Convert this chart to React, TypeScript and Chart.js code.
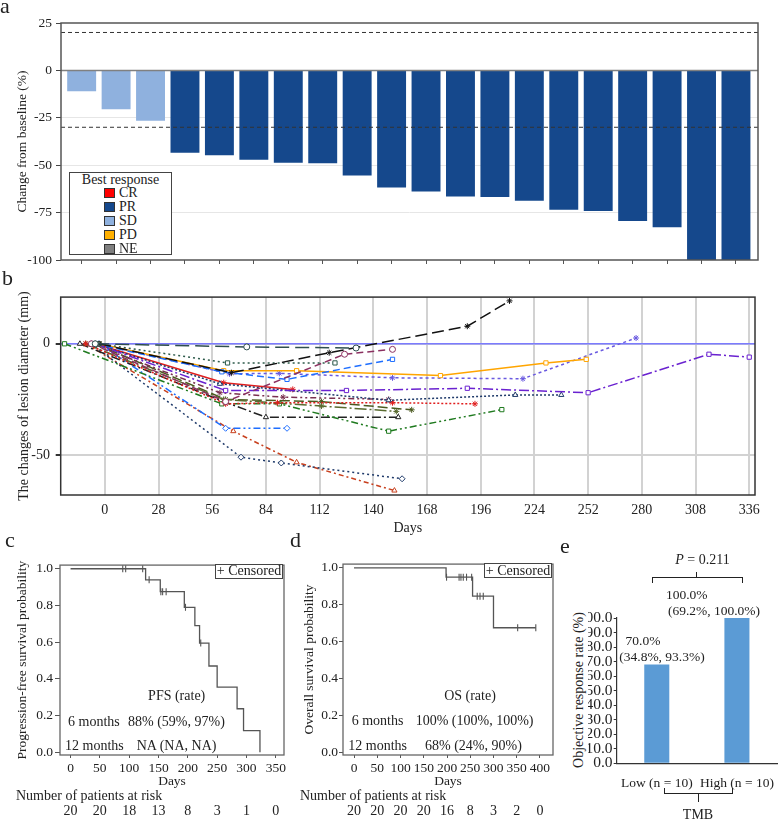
import React, { useEffect, useRef } from 'react';
import { Chart, registerables } from 'chart.js';

Chart.register(...registerables);

const SERIF = "'Liberation Serif', 'Times New Roman', serif";
Chart.defaults.font.family = SERIF;
Chart.defaults.color = '#222';

// ---------------- Panel a: waterfall ----------------
const sdChanges = [-11, -20.5, -26.5];
const prChanges = [-43.4, -44.8, -47.1, -48.7, -49, -55.4, -61.7, -63.9, -66.5, -66.8, -68.8, -73.5, -74.1, -79.4, -82.7, -100, -100];
const waterfallTicks = [25, 0, -25, -50, -75, -100];
const responseThresholds = [20, -30];
const responseLabels = ['CR', 'PR', 'SD', 'PD', 'NE'];

// ---------------- Panel b: lesion diameter ----------------
const dayTicks = [0, 28, 56, 84, 112, 140, 168, 196, 224, 252, 280, 308, 336];
const lesionTicks = [0, -50];
const lesionDays = [
  [-5, 74, 131],
  [-3, 66, 117, 189, 211],
  [-3, 64, 120],
  [-7, 63, 125, 150],
  [-5, 61, 95, 150],
  [-3, 62, 100, 175, 230, 251],
  [-3, 65, 91, 150, 218, 277],
  [-5, 63, 126, 189, 252, 315, 336],
  [-5, 60, 148, 214, 238],
  [-10, 63, 90, 150, 193],
  [-5, 62, 98],
  [-10, 62, 113, 152],
  [-21, 61, 91, 148, 207],
  [-13, 62, 84, 153],
  [-3, 63, 95],
  [-7, 71, 92, 155],
  [-10, 67, 100, 151],
  [-7, 60, 93, 148],
  [-5, 63, 113, 160],
];
const lesionChange = [
  [0, -1.4, -1.9],
  [0, -13, -4, 7.9, 19.3],
  [0, -8.6, -8.6],
  [0, -26, -4.7, -2.5],
  [0, -12.6, -16, -7],
  [0, -12.1, -12.1, -14.3, -8.6, -7],
  [0, -13.5, -13.3, -15.3, -15.7, 2.6],
  [0, -21, -21, -20, -22, -4.7, -6],
  [0, -18, -25.4, -23, -23],
  [0, -27, -26.5, -26.5, -27],
  [0, -17.5, -20.5],
  [0, -25, -28, -30.4],
  [0, -27, -27, -39.3, -29.6],
  [0, -26, -33, -33],
  [0, -38, -38],
  [0, -51, -53.6, -60.7],
  [0, -39.3, -53.3, -66],
  [0, -22, -24, -25],
  [0, -25, -26, -29.7],
];
const baselineRef = [0];

// ---------------- Panel c: PFS ----------------
const pfsTimes = [0, 128, 153, 194, 212, 220, 236, 250, 284, 295, 323];
const pfsSurv = [1, 0.94, 0.875, 0.79, 0.69, 0.595, 0.47, 0.355, 0.237, 0.118, 0];
const pfsCensor = [89, 94, 123, 134, 154, 157, 163, 196, 222];
const pfsDayTicks = [0, 50, 100, 150, 200, 250, 300, 350];
const pfsAtRisk = [20, 20, 18, 13, 8, 3, 1, 0];

// ---------------- Panel d: OS ----------------
const osTimes = [0, 198, 255, 300, 391];
const osSurv = [1, 0.949, 0.846, 0.675, 0.675];
const osCensor = [199, 226, 230, 235, 242, 253, 265, 271, 278, 352, 391];
const osDayTicks = [0, 50, 100, 150, 200, 250, 300, 350, 400];
const osAtRisk = [20, 20, 20, 20, 16, 8, 3, 2, 0];
const survTicks = [0, 0.2, 0.4, 0.6, 0.8, 1.0];

// ---------------- Panel e: ORR by TMB ----------------
const tmbGroups = ['Low (n = 10)', 'High (n = 10)'];
const orrValues = [68, 100];
const orrTicks = [0, 10, 20, 30, 40, 50, 60, 70, 80, 90, 100];
const orrPoint = ['70.0%', '100.0%'];
const orrCI = ['(34.8%, 93.3%)', '(69.2%, 100.0%)'];

// ---------------- styles ----------------
const responseColors = ['#FF0000', '#15488C', '#8FB1DE', '#FFB000', '#7F7F7F'];
const lesionStyles: any[] = [
  { color: '#2F4F4F', dash: [14, 6], marker: 'circle' },
  { color: '#111111', dash: [12, 5], marker: 'star' },
  { color: '#2E5B4B', dash: [2, 3], marker: 'rect' },
  { color: '#8B3060', dash: [7, 4], marker: 'circle' },
  { color: '#1E6EFF', dash: [7, 4], marker: 'rect' },
  { color: '#FFA500', dash: [], marker: 'rect' },
  { color: '#6A5AE0', dash: [3, 3], marker: 'star' },
  { color: '#6A22D0', dash: [10, 3, 2, 3], marker: 'rect' },
  { color: '#1F3A6A', dash: [2, 2], marker: 'triangle' },
  { color: '#E01E1E', dash: [2, 2], marker: 'star' },
  { color: '#E01E1E', dash: [], marker: 'star' },
  { color: '#5A6B2F', dash: [12, 3, 2, 3], marker: 'star' },
  { color: '#1F7A1F', dash: [7, 3, 2, 3, 2, 3], marker: 'rect' },
  { color: '#222222', dash: [9, 3, 2, 3], marker: 'triangle' },
  { color: '#1E6EFF', dash: [7, 3, 2, 3, 2, 3], marker: 'rectRot' },
  { color: '#1F3A6A', dash: [2, 3], marker: 'rectRot' },
  { color: '#C8401E', dash: [5, 3, 2, 3], marker: 'triangle' },
  { color: '#7A3050', dash: [6, 3, 2, 3, 2, 3], marker: 'star' },
  { color: '#4B5A20', dash: [10, 4], marker: 'star' },
];

// ---------------- helpers ----------------
const fixedTicks = (vals: number[]) => (s: any) => {
  s.ticks = vals.map((v) => ({ value: v }));
};

const framePlugin = (id: string, color: string, width: number) => ({
  id,
  afterDraw(chart: any) {
    const { ctx, chartArea: a } = chart;
    ctx.save();
    ctx.strokeStyle = color;
    ctx.lineWidth = width;
    ctx.strokeRect(a.left, a.top, a.right - a.left, a.bottom - a.top);
    ctx.restore();
  },
});

const hLinePlugin = (id: string, values: number[], color: string, width: number, dash: number[], before: boolean) => {
  const draw = (chart: any) => {
    const { ctx, chartArea: a, scales } = chart;
    ctx.save();
    ctx.strokeStyle = color;
    ctx.lineWidth = width;
    ctx.setLineDash(dash);
    values.forEach((v) => {
      const py = scales.y.getPixelForValue(v);
      ctx.beginPath();
      ctx.moveTo(a.left, py);
      ctx.lineTo(a.right, py);
      ctx.stroke();
    });
    ctx.restore();
  };
  return before ? { id, beforeDatasetsDraw: draw } : { id, afterDatasetsDraw: draw };
};

const riskPlugin = (ticks: number[], counts: number[], labelX: number, headY: number, rowY: number) => ({
  id: 'riskTable',
  afterDraw(chart: any) {
    const { ctx, scales } = chart;
    ctx.save();
    ctx.fillStyle = '#222';
    ctx.font = `14px ${SERIF}`;
    ctx.textBaseline = 'middle';
    ctx.textAlign = 'left';
    ctx.fillText('Number of patients at risk', labelX, headY);
    ctx.textAlign = 'center';
    counts.forEach((n, i) => ctx.fillText(String(n), scales.x.getPixelForValue(ticks[i]), rowY));
    ctx.restore();
  },
});

const survAt = (times: number[], surv: number[], t: number) => {
  let s = surv[0];
  for (let i = 0; i < times.length; i++) if (times[i] <= t) s = surv[i];
  return s;
};

const baseOpts = {
  responsive: false,
  animation: false,
  devicePixelRatio: 1,
  events: [],
};

// ---------------- configs ----------------
const waterfallConfig = () => {
  const allIdx = [...sdChanges, ...prChanges].map((_, i) => i);
  return {
    type: 'bar',
    data: {
      datasets: [
        {
          data: sdChanges.map((v, i) => ({ x: i, y: v })),
          backgroundColor: responseColors[2],
          grouped: false,
          barPercentage: 0.84,
          categoryPercentage: 1,
        },
        {
          data: prChanges.map((v, i) => ({ x: sdChanges.length + i, y: v })),
          backgroundColor: responseColors[1],
          grouped: false,
          barPercentage: 0.84,
          categoryPercentage: 1,
        },
      ],
    },
    options: {
      ...baseOpts,
      layout: { padding: { top: 23, right: 20, left: 0, bottom: 0 } },
      plugins: { legend: { display: false }, tooltip: { enabled: false } },
      scales: {
        x: {
          type: 'linear',
          offset: false,
          min: -0.6,
          max: 19.64,
          afterBuildTicks: fixedTicks(allIdx),
          afterFit: (s: any) => { s.height = 22; },
          ticks: { display: false },
          grid: { display: true, drawOnChartArea: false, drawTicks: true, tickLength: 4, tickColor: '#555', offset: false },
          border: { display: false },
        },
        y: {
          min: -100,
          max: 25,
          afterBuildTicks: fixedTicks(waterfallTicks),
          afterFit: (s: any) => { s.width = 61; },
          ticks: { font: { size: 13.5 }, padding: 4, color: '#222' },
          grid: {
            color: (c: any) => ([-25, -50, -75].includes(c.tick && c.tick.value) ? '#e6e6e6' : 'rgba(0,0,0,0)'),
            tickColor: '#444',
            tickLength: 5,
          },
          border: { display: false },
          title: { display: true, text: 'Change from baseline (%)', font: { size: 13.5 }, padding: { top: 14, bottom: 0 }, color: '#222' },
        },
      },
    },
    plugins: [
      hLinePlugin('zeroLine', [0], '#808080', 1.5, [], false),
      hLinePlugin('thresholds', responseThresholds, '#333', 1, [4, 3], false),
      framePlugin('frameA', '#555', 1.5),
    ],
  };
};

const lesionConfig = () => ({
  type: 'line',
  data: {
    datasets: lesionDays.map((days, k) => ({
      data: days.map((d, i) => ({ x: d, y: lesionChange[k][i] })),
      borderColor: lesionStyles[k].color,
      borderDash: lesionStyles[k].dash,
      borderWidth: 1.5,
      pointStyle: lesionStyles[k].marker,
      pointRadius: 3,
      pointBorderColor: lesionStyles[k].color,
      pointBackgroundColor: '#fff',
      pointBorderWidth: 1,
      fill: false,
      tension: 0,
    })),
  },
  options: {
    ...baseOpts,
    layout: { padding: { top: 5, right: 23, left: 0, bottom: 0 } },
    plugins: { legend: { display: false }, tooltip: { enabled: false } },
    scales: {
      x: {
        type: 'linear',
        min: -23,
        max: 339,
        afterBuildTicks: fixedTicks(dayTicks),
        afterFit: (s: any) => { s.height = 43; },
        ticks: { font: { size: 14 }, padding: 6.6, color: '#222', autoSkip: false, maxRotation: 0 },
        grid: { color: '#d2d2d2', lineWidth: 2, drawTicks: false },
        border: { display: false },
        title: { display: true, text: 'Days', font: { size: 14 }, padding: { top: 0, bottom: 1.6 }, color: '#222' },
      },
      y: {
        type: 'linear',
        min: -68,
        max: 21,
        afterBuildTicks: fixedTicks(lesionTicks),
        afterFit: (s: any) => { s.width = 60.7; },
        ticks: { font: { size: 14 }, padding: 5.7, color: '#222' },
        grid: { color: '#d2d2d2', lineWidth: 2, tickColor: '#333', tickLength: 5 },
        border: { display: false },
        title: { display: true, text: 'The changes of lesion diameter (mm)', font: { size: 14 }, padding: { top: 15.6, bottom: 0 }, color: '#222' },
      },
    },
  },
  plugins: [
    hLinePlugin('baseline', baselineRef, '#7B7BFF', 1.5, [], true),
    framePlugin('frameB', '#333', 1.5),
  ],
});

const kmConfig = (p: any) => () => ({
  type: 'line',
  data: {
    datasets: [
      {
        data: p.times.map((t: number, i: number) => ({ x: t, y: p.surv[i] })),
        stepped: 'before',
        borderColor: '#555',
        borderWidth: 1.3,
        pointRadius: 0,
        fill: false,
      },
      {
        data: p.censor.map((t: number) => ({ x: t, y: survAt(p.times, p.surv, t) })),
        showLine: false,
        pointStyle: 'line',
        rotation: 90,
        pointRadius: 3.5,
        pointBorderColor: '#555',
        pointBorderWidth: 1.1,
      },
    ],
  },
  options: {
    ...baseOpts,
    layout: { padding: { top: 6, right: p.padRight, left: 0, bottom: 0 } },
    plugins: { legend: { display: false }, tooltip: { enabled: false } },
    scales: {
      x: {
        type: 'linear',
        min: p.xMin,
        max: p.xMax,
        afterBuildTicks: fixedTicks(p.xTicks),
        afterFit: (s: any) => { s.height = 65; },
        ticks: { font: { size: 13.5 }, padding: 2.2, color: '#222', autoSkip: false, maxRotation: 0, minRotation: 0 },
        grid: { drawOnChartArea: false, drawTicks: true, tickLength: 3, tickColor: '#555' },
        border: { display: false },
        title: { display: true, text: 'Days', font: { size: 13.5 }, padding: { top: 0, bottom: 30.2 }, color: '#222' },
      },
      y: {
        type: 'linear',
        min: -0.015,
        max: 1.02,
        afterBuildTicks: fixedTicks(survTicks),
        afterFit: (s: any) => { s.width = p.yWidth; },
        ticks: { font: { size: 13.5 }, padding: p.yPad, color: '#222', autoSkip: false, callback: (v: any) => Number(v).toFixed(1) },
        grid: { drawOnChartArea: false, drawTicks: true, tickLength: p.yTick, tickColor: '#555' },
        border: { display: false },
        title: { display: true, text: p.yTitle, font: { size: 13.5 }, padding: { top: p.yTitlePad, bottom: 0 }, color: '#222' },
      },
    },
  },
  plugins: [
    framePlugin('frameKM', '#666', 1.3),
    riskPlugin(p.xTicks, p.risk, p.riskLabelX, 241, 256.5),
  ],
});

const pfsConfig = kmConfig({
  times: pfsTimes, surv: pfsSurv, censor: pfsCensor, xTicks: pfsDayTicks, risk: pfsAtRisk,
  xMin: -18, xMax: 364, padRight: 6, yWidth: 60, yPad: 2, yTick: 5,
  yTitle: 'Progression-free survival probability', yTitlePad: 14.2, riskLabelX: 16,
});

const osConfig = kmConfig({
  times: osTimes, surv: osSurv, censor: osCensor, xTicks: osDayTicks, risk: osAtRisk,
  xMin: -23.7, xMax: 428, padRight: 7, yWidth: 53, yPad: 1, yTick: 4,
  yTitle: 'Overall survival probability', yTitlePad: 11.2, riskLabelX: 10,
});

const orrConfig = () => ({
  type: 'bar',
  data: {
    labels: tmbGroups,
    datasets: [{ data: orrValues, backgroundColor: '#5B9BD5', barPercentage: 0.3125, categoryPercentage: 1 }],
  },
  options: {
    ...baseOpts,
    layout: { padding: { top: 33, right: 1, left: 0, bottom: 0 } },
    plugins: { legend: { display: false }, tooltip: { enabled: false } },
    scales: {
      x: {
        afterFit: (s: any) => { s.height = 56.7; },
        grid: { display: false },
        border: { display: true, color: '#333', width: 1.2 },
        ticks: { font: { size: 13.5 }, padding: 3.6, autoSkip: false, maxRotation: 0, color: '#222' },
      },
      y: {
        min: 0,
        max: 100,
        afterBuildTicks: fixedTicks(orrTicks),
        afterFit: (s: any) => { s.width = 28.7; },
        grid: { display: true, drawOnChartArea: false, drawTicks: true, tickLength: 3, tickColor: '#333' },
        border: { display: true, color: '#333', width: 1.2 },
        ticks: { font: { size: 15.5 }, padding: 1.2, autoSkip: false, color: '#222', callback: (v: any) => Number(v).toFixed(1) },
      },
    },
  },
});

// ---------------- components ----------------
function ChartCanvas({ x, y, w, h, config }: any) {
  const ref = useRef<HTMLCanvasElement>(null);
  useEffect(() => {
    const chart = new Chart(ref.current as HTMLCanvasElement, config() as any);
    return () => chart.destroy();
  }, []);
  return (
    <canvas
      ref={ref}
      width={w}
      height={h}
      style={{ position: 'absolute', left: x, top: y, width: w, height: h, display: 'block' }}
    />
  );
}

function Txt({ x, y, size = 14, anchor = 'middle', children, style }: any) {
  const tx = anchor === 'start' ? '0' : anchor === 'end' ? '-100%' : '-50%';
  return (
    <div
      style={{
        position: 'absolute',
        left: x,
        top: y,
        transform: `translate(${tx}, -50%)`,
        fontSize: size,
        lineHeight: 1,
        whiteSpace: 'nowrap',
        fontFamily: SERIF,
        color: '#222',
        ...style,
      }}
    >
      {children}
    </div>
  );
}

function VTxt({ x, y, size = 14, children }: any) {
  return (
    <div
      style={{
        position: 'absolute',
        left: x,
        top: y,
        transform: 'translate(-50%, -50%) rotate(-90deg)',
        fontSize: size,
        lineHeight: 1,
        whiteSpace: 'nowrap',
        fontFamily: SERIF,
        color: '#222',
      }}
    >
      {children}
    </div>
  );
}

const abs = (s: any) => ({ position: 'absolute', boxSizing: 'border-box', ...s });

export default function App() {
  return (
    <div style={{ position: 'absolute', left: 0, top: 0, width: 778, height: 820, background: '#fff', overflow: 'hidden', fontFamily: SERIF }}>
      <ChartCanvas x={0} y={0} w={778} h={282} config={waterfallConfig} />
      <ChartCanvas x={0} y={283} w={778} h={255} config={lesionConfig} />
      <ChartCanvas x={0} y={555} w={290} h={265} config={pfsConfig} />
      <ChartCanvas x={290} y={555} w={270} h={265} config={osConfig} />
      <ChartCanvas x={588} y={585} w={190} h={235} config={orrConfig} />

      {/* panel letters */}
      <Txt x={0} y={5.6} size={22} anchor="start">a</Txt>
      <Txt x={2} y={277.5} size={22} anchor="start">b</Txt>
      <Txt x={5} y={539.6} size={22} anchor="start">c</Txt>
      <Txt x={290} y={539.6} size={22} anchor="start">d</Txt>
      <Txt x={560} y={545.9} size={22} anchor="start">e</Txt>

      {/* legend of panel a */}
      <div style={abs({ left: 69, top: 172, width: 103, height: 83, border: '1px solid #444', background: '#fff' })} />
      <Txt x={120.5} y={180} size={14}>Best response</Txt>
      {responseLabels.map((lab, i) => (
        <React.Fragment key={lab}>
          <div style={abs({ left: 104, top: 188.4 + i * 13.9, width: 11, height: 9.5, background: responseColors[i], border: '1px solid #333' })} />
          <Txt x={119} y={192.9 + i * 13.9} size={14} anchor="start">{lab}</Txt>
        </React.Fragment>
      ))}

      {/* panel c annotations */}
      <div style={abs({ left: 215, top: 563.5, width: 68, height: 15, border: '1px solid #444', background: '#fff' })} />
      <Txt x={249} y={571} size={14}>+ Censored</Txt>
      <Txt x={176.7} y={696} size={14}>PFS (rate)</Txt>
      <Txt x={68} y={721.7} size={14} anchor="start">6 months</Txt>
      <Txt x={128} y={721.7} size={14} anchor="start">88% (59%, 97%)</Txt>
      <Txt x={65} y={745.7} size={14} anchor="start">12 months</Txt>
      <Txt x={136.7} y={745.7} size={14} anchor="start">NA (NA, NA)</Txt>

      {/* panel d annotations */}
      <div style={abs({ left: 484, top: 563, width: 68, height: 15, border: '1px solid #444', background: '#fff' })} />
      <Txt x={518} y={570.5} size={14}>+ Censored</Txt>
      <Txt x={470} y={696} size={14}>OS (rate)</Txt>
      <Txt x={351.7} y={721} size={14} anchor="start">6 months</Txt>
      <Txt x={415.7} y={721} size={14} anchor="start">100% (100%, 100%)</Txt>
      <Txt x={348.3} y={745.7} size={14} anchor="start">12 months</Txt>
      <Txt x={425} y={745.7} size={14} anchor="start">68% (24%, 90%)</Txt>

      {/* panel e annotations */}
      <VTxt x={579} y={690} size={14}>Objective response rate (%)</VTxt>
      <Txt x={702.5} y={560} size={14}><i>P</i> = 0.211</Txt>
      <div style={abs({ left: 651.7, top: 577, width: 91, height: 5.5, borderTop: '1.3px solid #222', borderLeft: '1.3px solid #222', borderRight: '1.3px solid #222' })} />
      <div style={abs({ left: 696, top: 571.7, width: 1.3, height: 6, background: '#222' })} />
      <Txt x={643} y={641} size={13.5}>{orrPoint[0]}</Txt>
      <Txt x={662} y={657} size={13.5}>{orrCI[0]}</Txt>
      <Txt x={686.7} y={594.5} size={13.5}>{orrPoint[1]}</Txt>
      <Txt x={714} y={610.5} size={13.5}>{orrCI[1]}</Txt>
      <div style={abs({ left: 664.3, top: 788.3, width: 68.4, height: 5.5, borderBottom: '1.3px solid #222', borderLeft: '1.3px solid #222', borderRight: '1.3px solid #222' })} />
      <div style={abs({ left: 697.7, top: 793, width: 1.3, height: 8.7, background: '#222' })} />
      <Txt x={698} y={815} size={14}>TMB</Txt>
    </div>
  );
}
